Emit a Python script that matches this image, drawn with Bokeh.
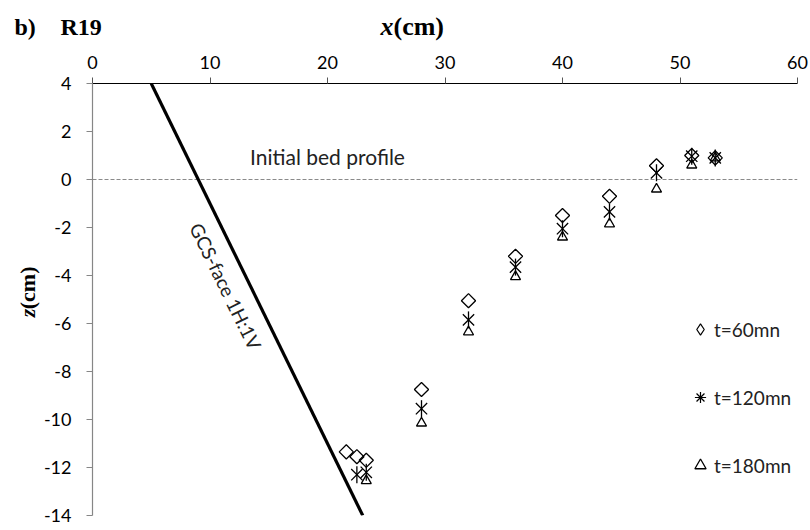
import math

from bokeh.core.properties import value
from bokeh.embed import file_html
from bokeh.layouts import column, row
from bokeh.models import FixedTicker, Legend, LegendItem, Range1d
from bokeh.plotting import figure
from bokeh.resources import INLINE

# Scour profiles in front of the structure (run R19)
x_60 = [21.6, 22.5, 23.3, 28, 32, 36, 40, 44, 48, 51, 53]
z_60 = [-11.35, -11.55, -11.7, -8.75, -5.05, -3.2, -1.5, -0.7, 0.57, 1.0, 0.9]

x_120 = [22.5, 23.3, 28, 32, 36, 40, 44, 48, 51, 53]
z_120 = [-12.3, -12.2, -9.55, -5.85, -3.65, -2.05, -1.35, 0.28, 0.97, 0.9]

x_180 = [23.3, 28, 32, 36, 40, 44, 48, 51, 53]
z_180 = [-12.55, -10.15, -6.35, -4.05, -2.4, -1.85, -0.4, 0.6, 0.9]

# Structure face (1H:1V) and initial bed level
gcs_x = [5, 23]
gcs_z = [4, -14]
bed_x = [0, 60]
bed_z = [0, 0]

x_ticks = [0, 10, 20, 30, 40, 50, 60]
x_tick_labels = ["0", "10", "20", "30", "40", "50", "60"]
z_ticks = [-14, -12, -10, -8, -6, -4, -2, 0, 2, 4]
z_tick_labels = ["-14", "-12", "-10", "-8", "-6", "-4", "-2", "0", "2", "4"]

series_labels = ["t=60mn", "t=120mn", "t=180mn"]

SANS = "Lato"
SERIF = "Liberation Serif"
X0, X1, Z0, Z1 = 0, 60, -14, 4

W, H = 810, 530
HEAD_H = 44      # strip holding the panel tag and the x title
SIDE_W = 40      # strip holding the z title
MAIN_W, MAIN_H = W - SIDE_W, H - HEAD_H


def blank(width, height):
    # a bare canvas whose data units are pixels, y growing downwards
    f = figure(width=width, height=height, output_backend="svg",
               toolbar_location=None, x_axis_location=None,
               y_axis_location=None,
               x_range=Range1d(0, width), y_range=Range1d(height, 0),
               min_border=0)
    f.outline_line_color = None
    f.xgrid.visible = False
    f.ygrid.visible = False
    f.background_fill_color = "white"
    f.border_fill_color = "white"
    return f


# ---- main chart -----------------------------------------------------------
p = figure(width=MAIN_W, height=MAIN_H, output_backend="svg",
           toolbar_location=None,
           x_range=Range1d(X0, X1), y_range=Range1d(Z0, Z1),
           x_axis_location="above",
           min_border_left=92 - SIDE_W, min_border_right=13,
           min_border_top=83 - HEAD_H, min_border_bottom=15)
p.outline_line_color = None
p.xgrid.visible = False
p.ygrid.visible = False
p.background_fill_color = "white"
p.border_fill_color = "white"

xa = p.xaxis[0]
xa.ticker = FixedTicker(ticks=x_ticks)
xa.major_label_overrides = dict(zip(x_ticks, x_tick_labels))
xa.axis_line_color = "black"
xa.axis_line_width = 1.2
xa.major_tick_line_color = "#555555"
xa.major_tick_out = 6
xa.major_tick_in = 0
xa.minor_tick_line_color = None
xa.major_label_text_font = SANS
xa.major_label_text_font_size = "18px"
xa.major_label_text_color = "black"
xa.major_label_standoff = 9

ya = p.yaxis[0]
ya.ticker = FixedTicker(ticks=z_ticks)
ya.major_label_overrides = dict(zip(z_ticks, z_tick_labels))
ya.axis_line_color = "#868686"
ya.axis_line_width = 1.2
ya.major_tick_line_color = "#868686"
ya.major_tick_out = 6
ya.major_tick_in = 0
ya.minor_tick_line_color = None
ya.major_label_text_font = SANS
ya.major_label_text_font_size = "18px"
ya.major_label_text_color = "black"
ya.major_label_standoff = 15

p.line(bed_x, bed_z, line_color="#8a8a8a", line_width=1.2, line_dash="4 2")
p.line(gcs_x, gcs_z, line_color="black", line_width=3.2)

# t=60: open diamonds (a square turned by 45 degrees)
p.scatter(x_60, z_60, marker="square", angle=math.pi / 4, size=10,
          fill_color=None, line_color="black", line_width=1.3)
# t=120: six-armed star, an X crossed by an upright bar
p.scatter(x_120, z_120, marker="x", size=16,
          line_color="black", line_width=1.3)
p.scatter(x_120, z_120, marker="dash", angle=math.pi / 2, size=17,
          line_color="black", line_width=1.3)
# t=180: open triangles
r180 = p.scatter(x_180, z_180, marker="triangle", size=10,
                 fill_color=None, line_color="black", line_width=1.3)

# legend keys drawn only inside the legend
k60 = p.scatter(x_60, z_60, marker="diamond", fill_color=None,
                line_color="black", line_width=1.2, visible=False)
k120 = p.scatter(x_120, z_120, marker="asterisk", line_color="black",
                 line_width=1.2, visible=False)

face_angle = -math.atan((432.0 / (Z1 - Z0)) / (703.0 / (X1 - X0)))
p.text(x=[20], y=[0.95], text=["Initial bed profile"],
       text_font=value(SANS), text_font_size="21px",
       text_align="center", text_baseline="middle", text_color="#222222")
p.text(x=[11.35], y=[-4.45], text=["GCS-face 1H:1V"], angle=face_angle,
       text_font=value(SANS), text_font_size="19px",
       text_align="center", text_baseline="middle", text_color="#222222")

legend = Legend(items=[LegendItem(label=series_labels[0], renderers=[k60]),
                       LegendItem(label=series_labels[1], renderers=[k120]),
                       LegendItem(label=series_labels[2], renderers=[r180])],
                location=(594, 36), orientation="vertical",
                border_line_color=None, background_fill_alpha=0,
                inactive_fill_alpha=0,
                padding=0, margin=0, spacing=40,
                label_height=28, glyph_height=28, glyph_width=28,
                label_standoff=0,
                label_text_font=SANS, label_text_font_size="19px",
                label_text_color="#222222")
p.add_layout(legend)

# ---- header: panel tag and x title ----------------------------------------
head = blank(W, HEAD_H)
serif_bold = dict(text_font=value(SERIF), text_baseline="middle",
                  text_align="left", text_color="black")
head.text(x=[14, 60], y=[26, 26], text=["b)", "R19"], text_font_size="24px",
          text_font_style="bold", **serif_bold)
head.text(x=[380], y=[26], text=["x"], text_font_size="26px",
          text_font_style="bold italic", **serif_bold)
head.text(x=[393], y=[26], text=["(cm)"], text_font_size="26px",
          text_font_style="bold", **serif_bold)

# ---- side strip: z title ----------------------------------------------------
side = blank(SIDE_W, MAIN_H)
zc = 282 - HEAD_H
side.text(x=[27], y=[zc + 25], text=["z"], angle=math.pi / 2,
          text_font_size="22px", text_font_style="bold italic", **serif_bold)
side.text(x=[27], y=[zc + 16], text=["(cm)"], angle=math.pi / 2,
          text_font_size="22px", text_font_style="bold", **serif_bold)

page = column(head, row(side, p))
open("out.html", "w").write(file_html(page, INLINE))
